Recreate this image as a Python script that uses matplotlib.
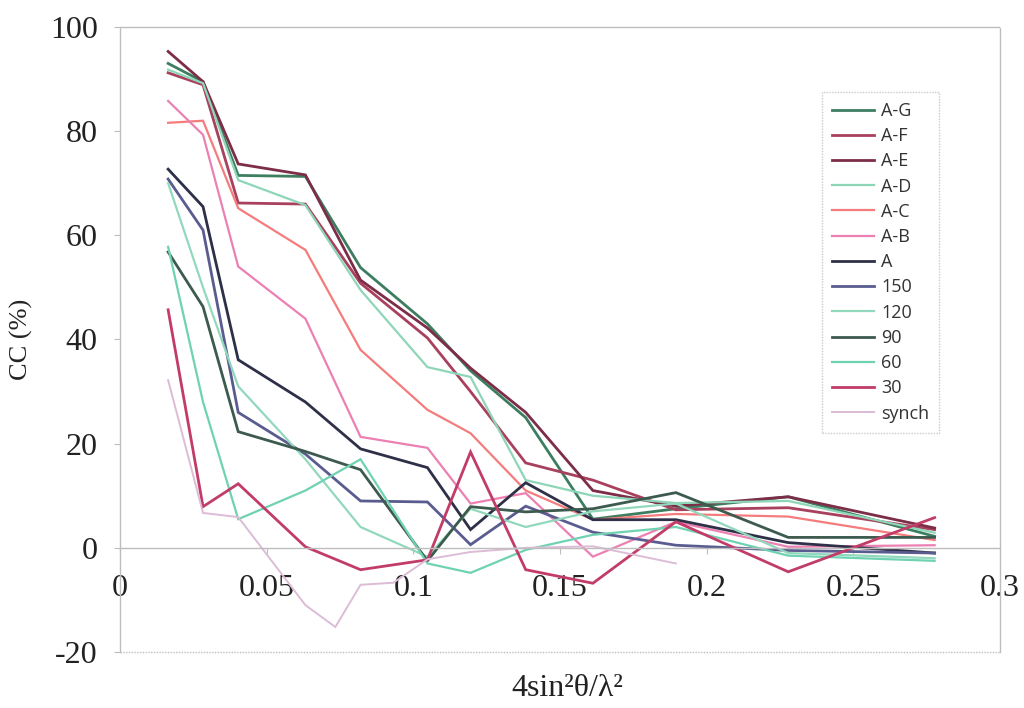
import matplotlib
matplotlib.use("Agg")
import matplotlib.pyplot as plt

# Resolution-shell positions (4 sin^2(theta) / lambda^2)
shells = [0.0164, 0.0283, 0.0403, 0.0632, 0.0820, 0.1048,
          0.1195, 0.1383, 0.1612, 0.1895, 0.2278, 0.2777]
synch_shells = [0.0164, 0.0283, 0.0403, 0.0632, 0.0734, 0.0820,
                0.0932, 0.1048, 0.1195, 0.1383, 0.1612, 0.1895]

# Correlation coefficients (%) per data set
cc_AG = [93.0, 89.5, 71.5, 71.3, 53.8, 43.0, 34.0, 25.0, 5.5, 7.5, 9.8, 2.2]
cc_AF = [91.2, 88.9, 66.2, 66.0, 50.8, 40.3, 30.0, 16.3, 13.0, 7.3, 7.7, 3.5]
cc_AE = [95.3, 89.5, 73.7, 71.6, 51.4, 42.2, 34.5, 26.0, 11.0, 8.0, 9.8, 3.8]
cc_AD = [91.8, 89.2, 70.6, 65.8, 49.5, 34.7, 32.8, 13.0, 10.0, 8.6, 9.0, 2.9]
cc_AC = [81.6, 82.0, 65.2, 57.2, 38.0, 26.5, 22.0, 11.0, 5.4, 6.5, 6.0, 1.5]
cc_AB = [85.8, 79.3, 54.0, 44.0, 21.3, 19.2, 8.5, 10.5, -1.7, 5.0, 0.2, 0.5]
cc_A = [72.7, 65.5, 36.1, 28.0, 19.0, 15.4, 3.5, 12.5, 5.4, 5.4, 1.0, -1.0]
cc_150 = [70.8, 61.0, 26.0, 18.0, 9.0, 8.8, 0.6, 8.0, 3.0, 0.5, -0.5, -1.0]
cc_120 = [70.0, 50.0, 31.0, 17.0, 4.0, -1.7, 7.5, 4.0, 7.0, 8.5, -1.0, -2.0]
cc_90 = [56.8, 46.3, 22.3, 18.5, 15.0, -2.5, 7.9, 6.9, 7.5, 10.6, 2.0, 2.0]
cc_60 = [57.8, 28.0, 5.5, 11.0, 17.0, -3.0, -4.8, -0.4, 2.5, 4.0, -1.5, -2.5]
cc_30 = [45.7, 7.9, 12.3, 0.2, -4.2, -2.3, 18.4, -4.2, -6.8, 5.0, -4.6, 5.8]
cc_synch = [32.2, 6.7, 5.9, -11.0, -15.2, -7.1, -6.7, -2.2, -0.8, 0.0, 0.3, -3.0]

labels = ["A-G", "A-F", "A-E", "A-D", "A-C", "A-B", "A",
          "150", "120", "90", "60", "30", "synch"]
series = [cc_AG, cc_AF, cc_AE, cc_AD, cc_AC, cc_AB, cc_A,
          cc_150, cc_120, cc_90, cc_60, cc_30, cc_synch]
colors = ["#3d7d60", "#a8405e", "#7c2d48", "#8ed6b8", "#f47c7c", "#ec80b2",
          "#2e3048", "#5a5c90", "#92d8bc", "#3c5a4e", "#6fd2b2", "#c23c68",
          "#dcbcd6"]
widths = [2.0, 2.0, 2.0, 1.6, 1.6, 1.6, 2.0, 2.0, 1.6, 2.0, 1.6, 2.0, 1.4]

fig = plt.figure(figsize=(10.24, 7.08), dpi=100)
ax = fig.add_axes([0.1172, 0.0791, 0.8594, 0.8828])

for lab, ys, c, w in zip(labels, series, colors, widths):
    xs = synch_shells if lab == "synch" else shells
    ax.plot(xs, ys, color=c, lw=w, label=lab, solid_joinstyle="miter")

ax.set_xlim(0, 0.3)
ax.set_ylim(-20, 100)

grey = "#bdbdbd"
for side in ["top", "left", "right"]:
    ax.spines[side].set_color(grey)
    ax.spines[side].set_linestyle((0, (1, 1)))
    ax.spines[side].set_linewidth(1.0)
ax.spines["bottom"].set_position(("data", 0))
ax.spines["bottom"].set_color(grey)
ax.spines["bottom"].set_linestyle((0, (1, 1)))
ax.spines["bottom"].set_linewidth(1.0)
ax.axhline(-20, color=grey, ls=(0, (1, 1)), lw=1.0, clip_on=False)

serif = "Liberation Serif"
ax.set_xticks([0, 0.05, 0.1, 0.15, 0.2, 0.25, 0.3])
ax.set_xticklabels(["0", "0.05", "0.1", "0.15", "0.2", "0.25", "0.3"],
                   fontfamily=serif, fontsize=23, color="#222222")
ax.set_yticks([-20, 0, 20, 40, 60, 80, 100])
ax.set_yticklabels(["-20", "0", "20", "40", "60", "80", "100"],
                   fontfamily=serif, fontsize=23, color="#222222")
ax.tick_params(axis="x", direction="out", length=4, color=grey, pad=15)
ax.tick_params(axis="y", direction="out", length=4, color=grey, pad=12)

ax.set_ylabel("CC (%)", fontfamily=serif, fontsize=19, color="#222222",
              labelpad=12)
fig.text(0.554, 0.028, "4sin²θ/λ²", fontfamily=serif, fontsize=23,
         color="#222222", ha="center", va="center")

leg = ax.legend(loc="upper left", bbox_to_anchor=(0.798, 0.896),
                borderaxespad=0.0,
                prop={"family": "Open Sans", "size": 13}, frameon=True,
                fancybox=False, handlelength=2.3, handletextpad=0.4,
                labelspacing=0.4, borderpad=0.55)
leg.get_frame().set_edgecolor(grey)
leg.get_frame().set_linestyle((0, (1, 1)))
leg.get_frame().set_linewidth(1.0)
for t in leg.get_texts():
    t.set_color("#333333")

fig.savefig("out.png", dpi=100, facecolor="white")
